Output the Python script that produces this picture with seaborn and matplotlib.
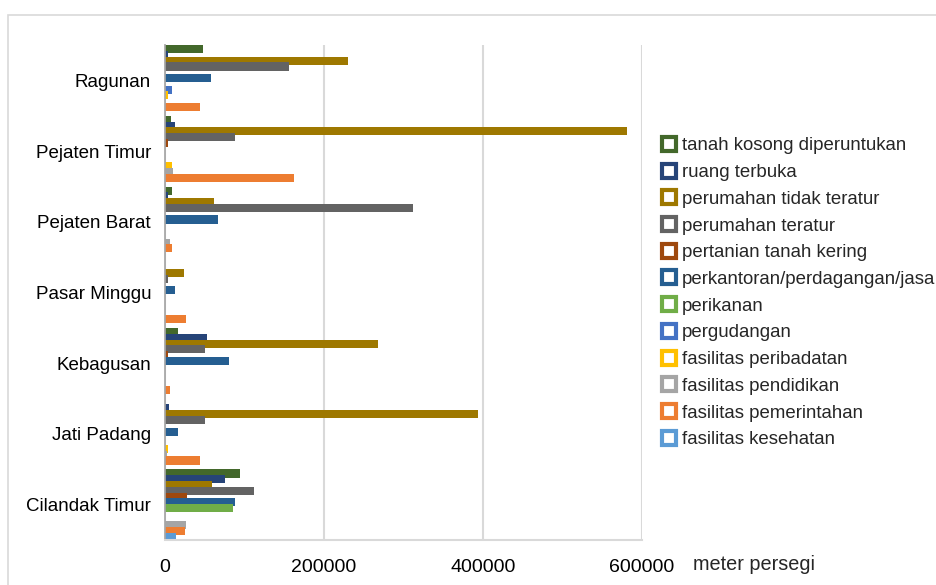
import matplotlib
matplotlib.use("Agg")
import matplotlib.pyplot as plt
from matplotlib.lines import Line2D
from matplotlib.patches import Rectangle
import pandas as pd
import seaborn as sns

kelurahan = [
    "Ragunan", "Pejaten Timur", "Pejaten Barat", "Pasar Minggu",
    "Kebagusan", "Jati Padang", "Cilandak Timur",
]
penggunaan = [
    "tanah kosong diperuntukan", "ruang terbuka", "perumahan tidak teratur",
    "perumahan teratur", "pertanian tanah kering", "perkantoran/perdagangan/jasa",
    "perikanan", "pergudangan", "fasilitas peribadatan", "fasilitas pendidikan",
    "fasilitas pemerintahan", "fasilitas kesehatan",
]
# one list per kelurahan, values in meter persegi, same order as penggunaan
ragunan = [48000, 4000, 230000, 155600, 0, 57900, 0, 8400, 3800, 0, 43600, 0]
pejaten_timur = [7500, 13000, 581000, 88000, 4000, 0, 0, 0, 8800, 10000, 161900, 0]
pejaten_barat = [8400, 3800, 62000, 312000, 0, 67000, 0, 0, 0, 6300, 9200, 0]
pasar_minggu = [0, 0, 24300, 3800, 0, 12200, 0, 0, 0, 0, 26000, 0]
kebagusan = [16000, 52400, 268400, 50700, 3800, 80500, 0, 0, 0, 0, 6700, 0]
jati_padang = [0, 4600, 393700, 49900, 0, 16800, 0, 0, 3800, 3000, 44400, 0]
cilandak_timur = [94300, 75900, 59100, 111600, 27300, 87700, 85500, 0, 0, 26400, 25500, 13400]

warna = [
    "#43682B", "#264478", "#9E7800", "#636363", "#9E480E", "#255E91",
    "#70AD47", "#4472C4", "#FFC000", "#A5A5A5", "#ED7D31", "#5B9BD5",
]

rows = []
for nama, nilai in zip(kelurahan, [ragunan, pejaten_timur, pejaten_barat, pasar_minggu,
                                   kebagusan, jati_padang, cilandak_timur]):
    for jenis, v in zip(penggunaan, nilai):
        rows.append({"kelurahan": nama, "penggunaan": jenis, "luas": v})
df = pd.DataFrame(rows)

sns.set_theme(style="white")
plt.rcParams["font.family"] = ["Liberation Sans", "DejaVu Sans"]

fig = plt.figure(figsize=(9.37, 5.85), dpi=100)
ax = fig.add_axes([165 / 937, 1 - 540 / 585, (642 - 165) / 937, (540 - 45) / 585])

sns.barplot(
    data=df, y="kelurahan", x="luas", hue="penggunaan", orient="h",
    order=kelurahan, hue_order=penggunaan, palette=warna, saturation=1,
    width=0.98, errorbar=None, legend=False, ax=ax, linewidth=0,
)

# Excel-style thicker, slightly overlapping bars
for p in ax.patches:
    h = p.get_height()
    p.set_y(p.get_y() - h * 0.1)
    p.set_height(h * 1.4)

ax.set_xlim(0, 600000)
ax.set_ylim(len(kelurahan) - 0.5, -0.5)
ax.set_xticks([0, 200000, 400000, 600000])
ax.set_xticklabels(["0", "200000", "400000", "600000"])
ax.xaxis.grid(True, color="#D9D9D9", linewidth=1.5)
ax.set_axisbelow(True)
ax.set_xlabel("")
ax.set_ylabel("")
ax.tick_params(axis="x", labelsize=14, pad=14, length=0, colors="#000000")
ax.tick_params(axis="y", labelsize=13.5, pad=10, length=0, colors="#000000")
for s in ["top", "right"]:
    ax.spines[s].set_visible(False)
ax.spines["left"].set_color("#A6A6A6")
ax.spines["bottom"].set_color("#D9D9D9")
ax.spines["bottom"].set_linewidth(1.5)

fig.text(693 / 937, 1 - 565 / 585, "meter persegi", fontsize=14.3, va="center", ha="left")

handles = [
    Line2D([], [], linestyle="none", marker="s", markersize=10,
           markerfacecolor="white", markeredgecolor=c, markeredgewidth=3)
    for c in warna
]
fig.legend(
    handles, penggunaan, loc="upper left", bbox_to_anchor=(654 / 937, 1 - 130 / 585),
    frameon=False, fontsize=13.4, labelspacing=0.52, handlelength=0.8,
    handletextpad=0.3, borderaxespad=0,
)

# chart area border
fig.patches.append(Rectangle((8 / 937, -0.05), 1.1, 1 - 15 / 585 + 0.05,
                             transform=fig.transFigure, fill=False,
                             edgecolor="#D9D9D9", linewidth=1.2))

fig.savefig("out.png", dpi=100)
